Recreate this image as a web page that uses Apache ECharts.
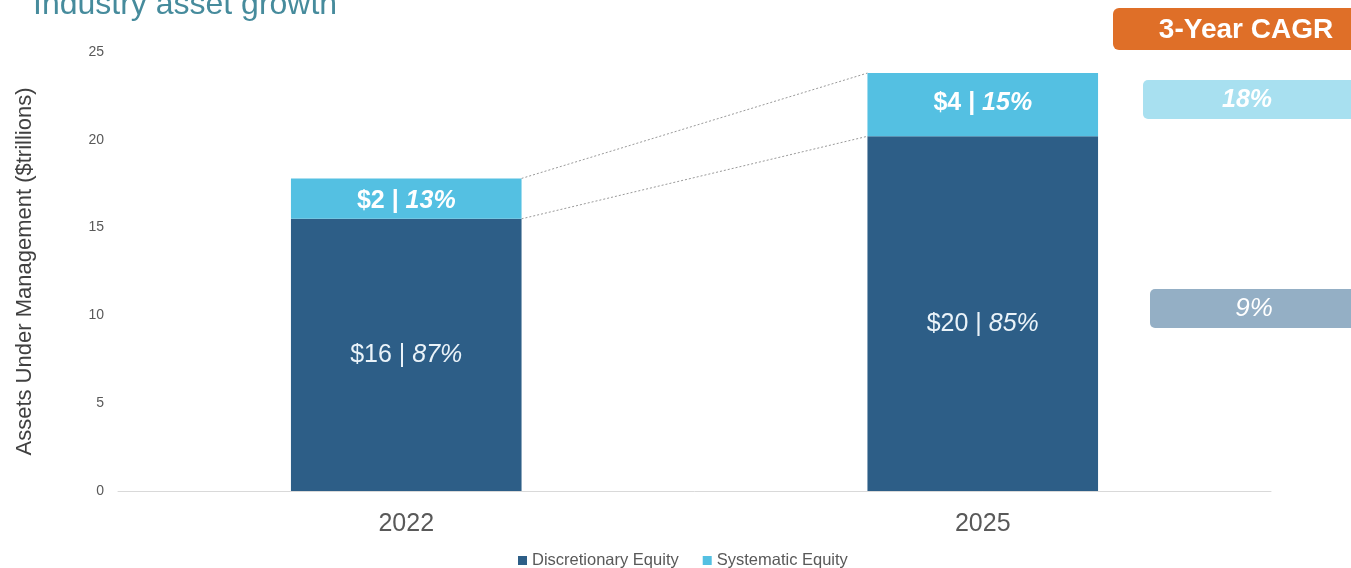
<!DOCTYPE html>
<html>
<head>
<meta charset="utf-8">
<title>Industry asset growth</title>
<script src="https://cdn.jsdelivr.net/npm/echarts@6/dist/echarts.min.js"></script>
<style>
  html, body { margin: 0; padding: 0; background: #ffffff; }
  #chart { width: 1351px; height: 568px; }
</style>
</head>
<body>
<div id="chart"></div>
<script>
// Assets under management, $ trillions
const years = ['2022', '2025'];
const discretionary = [15.5, 20.2];
const systematic = [2.3, 3.6];
const yTicks = [0, 5, 10, 15, 20, 25];
// 3-year compound annual growth, percent
const cagrSystematic = 18;
const cagrDiscretionary = 9;

const FONT = '"Liberation Sans", Arial, Helvetica, sans-serif';
const totals = years.map((_, i) => discretionary[i] + systematic[i]);
const pct = (v, i) => Math.round(v / totals[i] * 100) + '%';

const chart = echarts.init(document.getElementById('chart'), null, { renderer: 'canvas' });

chart.setOption({
  backgroundColor: '#ffffff',
  animation: false,
  textStyle: { fontFamily: FONT },
  title: {
    text: 'Industry asset growth',
    left: 28,
    top: -16,
    textStyle: { color: '#468b9c', fontSize: 32, fontWeight: 'normal', fontFamily: FONT }
  },
  legend: {
    left: 513,
    top: 547,
    icon: 'rect',
    itemWidth: 9,
    itemHeight: 9,
    itemGap: 24,
    itemStyle: { borderWidth: 0 },
    textStyle: { color: '#595959', fontSize: 16.5, fontFamily: FONT },
    data: ['Discretionary Equity', 'Systematic Equity']
  },
  grid: { left: 118, right: 80, top: 52, bottom: 77, containLabel: false },
  xAxis: {
    type: 'category',
    data: years,
    axisLine: { lineStyle: { color: '#d9d9d9', width: 1 } },
    axisTick: { show: false },
    axisLabel: { color: '#595959', fontSize: 25, margin: 21, fontFamily: FONT }
  },
  yAxis: {
    type: 'value',
    min: yTicks[0],
    max: yTicks[yTicks.length - 1],
    interval: yTicks[1] - yTicks[0],
    name: 'Assets Under Management ($trillions)',
    nameLocation: 'middle',
    nameGap: 82,
    nameTextStyle: { color: '#404040', fontSize: 22, fontFamily: FONT },
    axisLine: { show: false },
    axisTick: { show: false },
    splitLine: { show: false },
    axisLabel: { color: '#595959', fontSize: 14, margin: 14, fontFamily: FONT }
  },
  series: [
    {
      name: 'Discretionary Equity',
      type: 'bar',
      stack: 'aum',
      barWidth: '40%',
      itemStyle: { color: '#2d5e87' },
      label: {
        show: true,
        position: 'inside',
        formatter: p => '{v|$' + Math.round(p.value) + ' | }{p|' + pct(p.value, p.dataIndex) + '}',
        rich: {
          v: { color: '#eaf3f9', fontSize: 25, fontFamily: FONT },
          p: { color: '#eaf3f9', fontSize: 25, fontStyle: 'italic', fontFamily: FONT }
        }
      },
      data: discretionary.map((v, i) => (i === 1 ? { value: v, label: { offset: [0, 10] } } : v))
    },
    {
      name: 'Systematic Equity',
      type: 'bar',
      stack: 'aum',
      barWidth: '40%',
      itemStyle: { color: '#54c0e2' },
      label: {
        show: true,
        position: 'inside',
        formatter: p => '{v|$' + Math.round(p.value) + ' | }{p|' + pct(p.value, p.dataIndex) + '}',
        rich: {
          v: { color: '#ffffff', fontSize: 25, fontWeight: 'bold', fontFamily: FONT },
          p: { color: '#ffffff', fontSize: 25, fontWeight: 'bold', fontStyle: 'italic', fontFamily: FONT }
        }
      },
      data: systematic.map((v, i) => ({ value: v, label: { offset: [0, i === 0 ? 2 : -2] } }))
    },
    {
      // dotted connectors between the segment edges of the two bars
      type: 'custom',
      silent: true,
      z: 1,
      encode: { x: 0, y: 1 },
      data: [[0, discretionary[0], discretionary[1], totals[0], totals[1]]],
      renderItem: (params, api) => {
        const half = api.size([1, 0])[0] * 0.4 / 2;
        const dotted = { stroke: '#9a9a9a', lineWidth: 1, lineDash: [2, 2] };
        const lines = [[api.value(1), api.value(2)], [api.value(3), api.value(4)]].map(([a, b]) => {
          const p0 = api.coord([0, a]);
          const p1 = api.coord([1, b]);
          return {
            type: 'line',
            shape: { x1: p0[0] + half, y1: p0[1], x2: p1[0] - half, y2: p1[1] },
            style: dotted
          };
        });
        return { type: 'group', children: lines };
      }
    }
  ],
  graphic: [
    {
      type: 'rect',
      shape: { x: 1113, y: 8, width: 266, height: 42, r: 6 },
      style: { fill: '#df6f28' }
    },
    {
      type: 'text',
      x: 1246, y: 30,
      style: {
        text: '3-Year CAGR', fill: '#ffffff', font: 'bold 28px ' + FONT,
        textAlign: 'center', textVerticalAlign: 'middle'
      }
    },
    {
      type: 'rect',
      shape: { x: 1143, y: 80, width: 220, height: 39, r: 5 },
      style: { fill: '#a8e0f0' }
    },
    {
      type: 'text',
      x: 1247, y: 100,
      style: {
        text: cagrSystematic + '%', fill: '#ffffff', font: 'italic bold 25px ' + FONT,
        textAlign: 'center', textVerticalAlign: 'middle'
      }
    },
    {
      type: 'rect',
      shape: { x: 1150, y: 289, width: 220, height: 39, r: 5 },
      style: { fill: '#94afc5' }
    },
    {
      type: 'text',
      x: 1254, y: 309,
      style: {
        text: cagrDiscretionary + '%', fill: '#ffffff', font: 'italic 26px ' + FONT,
        textAlign: 'center', textVerticalAlign: 'middle'
      }
    }
  ]
});
</script>
</body>
</html>
